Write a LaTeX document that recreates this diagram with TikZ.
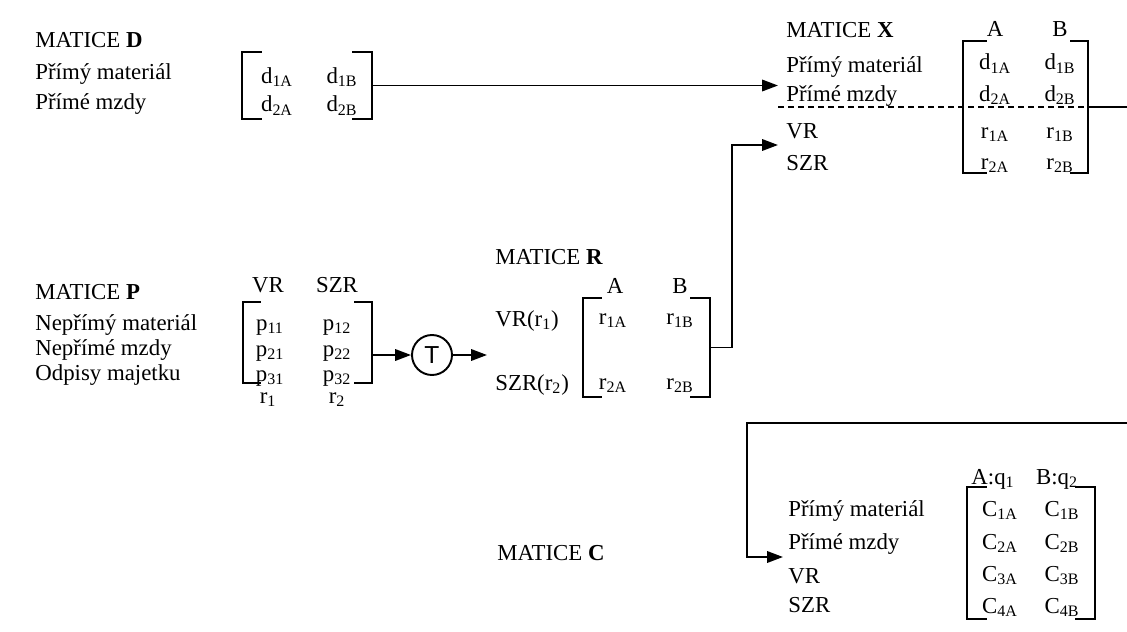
\documentclass[tikz,border=0pt]{standalone}
\usepackage{fontspec}
\setmainfont{Liberation Serif}
\newfontfamily\circlefont{Liberation Sans}
\usepackage{tikz}
\usetikzlibrary{arrows.meta,positioning,fit}

\begin{document}
\begin{tikzpicture}[
    x=0.02cm, y=-0.02cm,
    font=\fontsize{13}{15}\selectfont,
    lbl/.style={anchor=base west, inner sep=0pt},
    entry/.style={anchor=base, inner sep=0pt},
    matbox/.style={inner sep=0pt},
    bracket/.style={line width=1.1pt},
    arrow/.style={-{Triangle[length=9pt,width=6.5pt]}, line width=1.1pt},
    optor/.style={circle, draw, line width=1.1pt, minimum size=40*0.02cm, inner sep=0pt, font=\circlefont\fontsize{14}{16}\selectfont}
]
\useasboundingbox (0,0) rectangle (1127,632);

% Matrix D
\node (dtitle) [lbl] at (35,48) {MATICE \textbf{D}};
\node (dpm) [lbl] at (35,79) {Přímý materiál};
\node (dmz) [lbl] at (35,109) {Přímé mzdy};
\node (D) [matbox, fit={(242,52) (372,119)}] {};
\node (d1A) [entry] at (277,83) {d\textsubscript{1A}};
\node (d1B) [entry] at (342,83) {d\textsubscript{1B}};
\node (d2A) [entry] at (277,112) {d\textsubscript{2A}};
\node (d2B) [entry] at (342,112) {d\textsubscript{2B}};
\draw [bracket] ([xshift=0.4cm]D.north west) -- (D.north west) -- (D.south west) -- ++(20,0);
\draw [bracket] ([xshift=-0.4cm]D.north east) -- (D.north east) -- (D.south east) -- ++(-20,0);

% Matrix X
\node (xtitle) [lbl] at (786,37) {MATICE \textbf{X}};
\node (xA) [entry] at (995,36) {A};
\node (xB) [entry] at (1060,36) {B};
\node (xpm) [lbl] at (786,72) {Přímý materiál};
\node (xmz) [lbl] at (786,101) {Přímé mzdy};
\node (xvr) [lbl] at (786,138) {VR};
\node (xszr) [lbl] at (786,170) {SZR};
\node (X) [matbox, fit={(963,41) (1088,173)}] {};
\node (x1A) [entry] at (995,70) {d\textsubscript{1A}};
\node (x1B) [entry] at (1060,70) {d\textsubscript{1B}};
\node (x2A) [entry] at (995,101) {d\textsubscript{2A}};
\node (x2B) [entry] at (1060,101) {d\textsubscript{2B}};
\node (x3A) [entry] at (995,138) {r\textsubscript{1A}};
\node (x3B) [entry] at (1060,138) {r\textsubscript{1B}};
\node (x4A) [entry] at (995,169) {r\textsubscript{2A}};
\node (x4B) [entry] at (1060,169) {r\textsubscript{2B}};
\draw [bracket] ([xshift=0.48cm]X.north west) -- (X.north west) -- (X.south west) -- ++(24,0);
\draw [bracket] ([xshift=-0.36cm]X.north east) -- (X.north east) -- (X.south east) -- ++(-18,0);

% Matrix P
\node (ptitle) [lbl] at (35,299) {MATICE \textbf{P}};
\node (pnm) [lbl] at (35,330) {Nepřímý materiál};
\node (pnz) [lbl] at (35,355) {Nepřímé mzdy};
\node (pom) [lbl] at (35,380) {Odpisy majetku};
\node (pVR) [entry] at (268,292) {VR};
\node (pSZR) [entry] at (337,292) {SZR};
\node (P) [matbox, fit={(243,302) (372,383)}] {};
\node (p11) [entry] at (270,330) {p\textsubscript{11}};
\node (p12) [entry] at (337,330) {p\textsubscript{12}};
\node (p21) [entry] at (270,356) {p\textsubscript{21}};
\node (p22) [entry] at (337,356) {p\textsubscript{22}};
\node (p31) [entry] at (270,381) {p\textsubscript{31}};
\node (p32) [entry] at (337,381) {p\textsubscript{32}};
\node (pr1) [entry] at (268,403) {r\textsubscript{1}};
\node (pr2) [entry] at (337,403) {r\textsubscript{2}};
\draw [bracket] ([xshift=0.36cm]P.north west) -- (P.north west) -- (P.south west) -- ++(18,0);
\draw [bracket] ([xshift=-0.36cm]P.north east) -- (P.north east) -- (P.south east) -- ++(-18,0);

% Operator T
\node (T) [optor] at (432,355) {T};

% Matrix R
\node (rtitle) [lbl] at (495,264) {MATICE \textbf{R}};
\node (rA) [entry] at (615,293) {A};
\node (rB) [entry] at (680,293) {B};
\node (rvr) [lbl] at (495,326) {VR(r\textsubscript{1})};
\node (rszr) [lbl] at (495,390) {SZR(r\textsubscript{2})};
\node (R) [matbox, fit={(583,298) (710,397)}] {};
\node (r1A) [entry] at (613,324) {r\textsubscript{1A}};
\node (r1B) [entry] at (680,324) {r\textsubscript{1B}};
\node (r2A) [entry] at (613,389) {r\textsubscript{2A}};
\node (r2B) [entry] at (680,389) {r\textsubscript{2B}};
\draw [bracket] ([xshift=0.38cm]R.north west) -- (R.north west) -- (R.south west) -- ++(19,0);
\draw [bracket] ([xshift=-0.4cm]R.north east) -- (R.north east) -- (R.south east) -- ++(-20,0);

% Matrix C
\node (ctitle) [lbl] at (497,560) {MATICE \textbf{C}};
\node (cA) [entry] at (993,484) {A:q\textsubscript{1}};
\node (cB) [entry] at (1057,484) {B:q\textsubscript{2}};
\node (cpm) [lbl] at (788,516) {Přímý materiál};
\node (cmz) [lbl] at (788,549) {Přímé mzdy};
\node (cvr) [lbl] at (788,583) {VR};
\node (cszr) [lbl] at (788,612) {SZR};
\node (C) [matbox, fit={(967,487) (1095,619)}] {};
\node (c1A) [entry] at (1000,516) {C\textsubscript{1A}};
\node (c1B) [entry] at (1062,516) {C\textsubscript{1B}};
\node (c2A) [entry] at (1000,549) {C\textsubscript{2A}};
\node (c2B) [entry] at (1062,549) {C\textsubscript{2B}};
\node (c3A) [entry] at (1000,581) {C\textsubscript{3A}};
\node (c3B) [entry] at (1062,581) {C\textsubscript{3B}};
\node (c4A) [entry] at (1000,613) {C\textsubscript{4A}};
\node (c4B) [entry] at (1062,613) {C\textsubscript{4B}};
\draw [bracket] ([xshift=0.4cm]C.north west) -- (C.north west) -- (C.south west) -- ++(20,0);
\draw [bracket] ([xshift=-0.4cm]C.north east) -- (C.north east) -- (C.south east) -- ++(-20,0);

% Free ends
\coordinate (xin1) at (778,80);
\coordinate (xin2) at (778,145);
\coordinate (rin) at (487,355);
\coordinate (xout) at (1127,107);
\coordinate (cin) at (1127,423);
\coordinate (cend) at (783,557);

% Arrows
\draw [arrow] (D.east) -- (D.east -| xin1);
\draw [arrow] (P.east |- T.west) -- (T.west);
\draw [arrow] (T.east) -- (rin);
\draw [arrow] (R.east) -- ++(22,0) |- (xin2);
\draw [line width=1.1pt, dash pattern=on 3.4pt off 2.3pt] (X.east -| xin1) -- (X.east);
\draw [line width=1.1pt] (X.east) -- (xout);
\draw [arrow] (cin) -- ++(-380,0) |- (cend);

\end{tikzpicture}
\end{document}
